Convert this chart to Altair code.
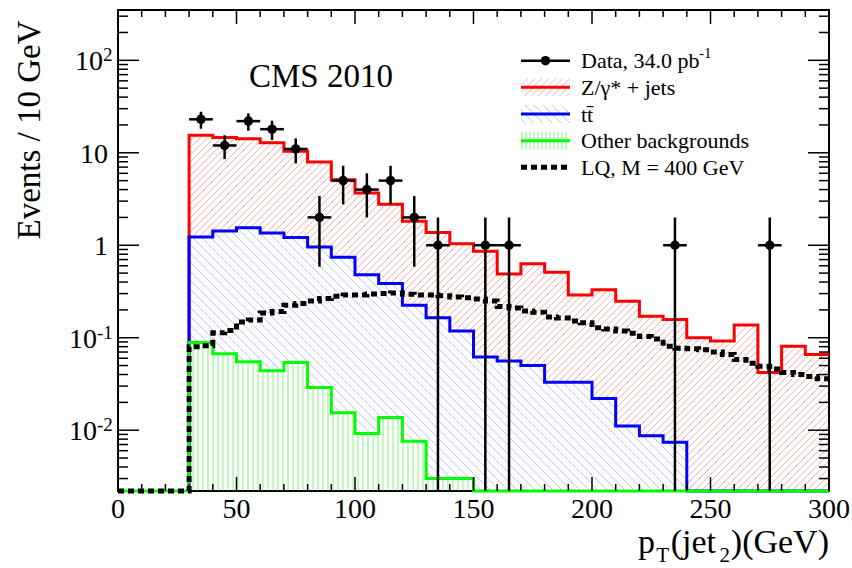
import math
import numpy as np
import pandas as pd
import altair as alt

# ---------------- values ----------------
bin_lo = list(range(30, 300, 10))  # 10 GeV bins 30-300
zjets_stack = [15.5, 14.6, 14.2, 12.8, 10.4, 7.95, 5.1, 3.68, 2.77, 1.82, 1.37, 1.04, 0.86, 0.49,
               0.63, 0.51, 0.29, 0.33, 0.248, 0.171, 0.157, 0.100, 0.092, 0.137, 0.042, 0.081, 0.066]
ttbar_stack = [1.23, 1.43, 1.55, 1.36, 1.21, 0.96, 0.74, 0.48, 0.385, 0.224, 0.164, 0.118, 0.062,
               0.056, 0.050, 0.033, 0.033, 0.022, 0.0111, 0.0087, 0.0074, 0, 0, 0, 0, 0, 0]
other_bkg = [0.089, 0.067, 0.055, 0.044, 0.054, 0.029, 0.0154, 0.0092, 0.0137, 0.0076, 0.0030,
             0.0030, 0, 0, 0, 0, 0, 0, 0, 0, 0, 0, 0, 0, 0, 0, 0]
data_center = list(range(35, 300, 10))
data_count = [23, 12, 22, 18, 11, 2, 5, 4, 5, 2, 1, 0, 1, 1, 0, 0, 0, 0, 0, 0, 1, 0, 0, 0, 1, 0, 0]
lq_lo = list(range(0, 300, 5))  # 5 GeV bins
lq_val = [0, 0, 0, 0, 0, 0,
          0.080, 0.082, 0.113, 0.120, 0.148, 0.155, 0.185, 0.192, 0.225, 0.235, 0.25, 0.265,
          0.28, 0.29, 0.29, 0.297, 0.30, 0.305, 0.295, 0.29, 0.29, 0.285, 0.275, 0.27, 0.262,
          0.25, 0.218, 0.21, 0.195, 0.188, 0.168, 0.163, 0.152, 0.145, 0.128, 0.124, 0.118,
          0.112, 0.103, 0.097, 0.081, 0.077, 0.076, 0.074, 0.070, 0.066, 0.058, 0.053, 0.049,
          0.046, 0.042, 0.040, 0.038, 0.036]
x_tick_labels = ["0", "50", "100", "150", "200", "250", "300"]
x_tick_values = [0, 50, 100, 150, 200, 250, 300]
legend_labels = ["Data, 34.0 pb", "Z/\u03b3* + jets", "tt\u0304", "Other backgrounds", "LQ, M = 400 GeV"]

# ---------------- geometry ----------------
W, H = 711, 481
XMIN, XMAX = 0.0, 300.0
YMIN, YMAX = 0.0022, 350.0
L0, L1 = math.log10(YMIN), math.log10(YMAX)
SERIF = "Liberation Serif"

def fl(v):
    return v if v > YMIN else YMIN

def px(x):
    return (x - XMIN) / (XMAX - XMIN) * W

def py(v):
    return H * (1 - (math.log10(v) - L0) / (L1 - L0))

def inv_x(p):
    return XMIN + p / W * (XMAX - XMIN)

def inv_y(p):
    return 10 ** (L0 + (1 - p / H) * (L1 - L0))

def hatch_segments(regs, kind, spacing, xlim, ylim):
    segs = []
    if kind == "v":
        for (x0, x1, yt, yb) in regs:
            x = math.ceil(x0 / spacing) * spacing
            while x < x1:
                segs.append((x, yt, x, yb))
                x += spacing
        return segs
    if kind == "/":
        cs = np.arange(xlim[0] + ylim[0], xlim[1] + ylim[1] + spacing, spacing)
    else:
        cs = np.arange(ylim[0] - xlim[1], ylim[1] - xlim[0] + spacing, spacing)
    for c in cs:
        ivs = []
        for (x0, x1, yt, yb) in regs:
            if kind == "/":
                a, b = max(x0, c - yb), min(x1, c - yt)
            else:
                a, b = max(x0, yt - c), min(x1, yb - c)
            if b > a + 1e-9:
                ivs.append([a, b])
        merged = []
        for iv in ivs:
            if merged and abs(iv[0] - merged[-1][1]) < 1e-6:
                merged[-1][1] = iv[1]
            else:
                merged.append(iv)
        for a, b in merged:
            if kind == "/":
                segs.append((a, c - a, b, c - b))
            else:
                segs.append((a, a + c, b, b + c))
    return segs

def hatch_df(lo, upper, lower, width, kind, spacing):
    regs = []
    for l, u, d in zip(lo, upper, lower):
        u, d = fl(u), fl(d)
        if u <= d:
            continue
        regs.append((px(l), px(l + width), py(u), py(d)))
    segs = hatch_segments(regs, kind, spacing, (0, W), (0, H))
    return pd.DataFrame({
        "x": [inv_x(s[0]) for s in segs], "y": [inv_y(s[1]) for s in segs],
        "x2": [inv_x(s[2]) for s in segs], "y2": [inv_y(s[3]) for s in segs]})

def step_df(lo, vals, width, start=None):
    pts = []
    if start is not None:
        pts.append((start, YMIN))
    pts.append((lo[0], YMIN))
    for l, v in zip(lo, vals):
        pts.append((l, fl(v)))
    pts.append((lo[-1] + width, fl(vals[-1])))
    return pd.DataFrame({"x": [p[0] for p in pts], "y": [p[1] for p in pts], "o": list(range(len(pts)))})

xs = alt.Scale(domain=[XMIN, XMAX], nice=False, zero=False)
ys = alt.Scale(type="log", domain=[YMIN, YMAX], nice=False)

def X(f):
    return alt.X(f, type="quantitative", scale=xs, axis=None)

def Y(f):
    return alt.Y(f, type="quantitative", scale=ys, axis=None)

def text_layer(t, x, y, size, align="left", angle=None, color="black"):
    kw = dict(font=SERIF, fontSize=size, align=align, baseline="alphabetic", color=color)
    if angle is not None:
        kw["angle"] = angle
    return alt.Chart(pd.DataFrame({"t": [t]})).mark_text(**kw).encode(
        x=alt.value(x), y=alt.value(y), text="t:N")

layers = []

RED_H = ("#ff0000", 0.32)
BLUE_H = ("#0000ff", 0.24)
GREEN_H = ("#00ee00", 0.5)

# ---- hatched fills ----
zero = [0] * len(bin_lo)
for upper, lower, kind, sp, (col, op) in [
        (zjets_stack, ttbar_stack, "/", 7, RED_H),
        (ttbar_stack, other_bkg, "\\", 9, BLUE_H),
        (other_bkg, zero, "v", 5, GREEN_H)]:
    hd = hatch_df(bin_lo, upper, lower, 10, kind, sp)
    layers.append(alt.Chart(hd).mark_rule(color=col, strokeWidth=1, opacity=op).encode(
        x=X("x"), y=Y("y"), x2=alt.X2("x2"), y2=alt.Y2("y2")))

# ---- histogram outlines ----
layers.append(alt.Chart(step_df(bin_lo, zjets_stack, 10)).mark_line(
    interpolate="step-after", color="#ff0000", strokeWidth=3).encode(x=X("x"), y=Y("y"), order="o:Q"))
layers.append(alt.Chart(step_df(bin_lo, ttbar_stack, 10)).mark_line(
    interpolate="step-after", color="#0000ff", strokeWidth=3).encode(x=X("x"), y=Y("y"), order="o:Q"))
layers.append(alt.Chart(step_df(bin_lo, other_bkg, 10, start=0)).mark_line(
    interpolate="step-after", color="#00ff00", strokeWidth=3).encode(x=X("x"), y=Y("y"), order="o:Q"))
layers.append(alt.Chart(step_df(lq_lo, lq_val, 5)).mark_line(
    interpolate="step-after", color="black", strokeWidth=5, strokeDash=[6, 4]).encode(
    x=X("x"), y=Y("y"), order="o:Q"))

# ---- data points ----
dd = pd.DataFrame({"x": data_center, "n": data_count})
dd = dd[dd.n > 0].copy()
dd["xlo"] = dd.x - 5
dd["xhi"] = dd.x + 5
dd["ylo"] = [fl(n - math.sqrt(n)) for n in dd.n]
dd["yhi"] = [n + math.sqrt(n) for n in dd.n]
layers.append(alt.Chart(dd).mark_rule(color="black", strokeWidth=2.5).encode(
    x=X("x"), y=Y("ylo"), y2=alt.Y2("yhi")))
layers.append(alt.Chart(dd).mark_rule(color="black", strokeWidth=2.5).encode(
    x=X("xlo"), x2=alt.X2("xhi"), y=Y("n")))
layers.append(alt.Chart(dd).mark_circle(color="black", size=90, opacity=1).encode(x=X("x"), y=Y("n")))

# ---- ticks (inside the frame, all four sides) ----
xt_major = pd.DataFrame({"x": x_tick_values})
xt_minor = pd.DataFrame({"x": [v for v in range(0, 301, 10) if v % 50 != 0]})
for df, ln in [(xt_major, 14), (xt_minor, 7)]:
    layers.append(alt.Chart(df).mark_rule(color="black", strokeWidth=1.5).encode(
        x=X("x"), y=alt.value(H), y2=alt.value(H - ln)))
    layers.append(alt.Chart(df).mark_rule(color="black", strokeWidth=1.5).encode(
        x=X("x"), y=alt.value(0), y2=alt.value(ln)))
yt_major_vals = [0.01, 0.1, 1, 10, 100]
yt_minor_vals = [m * 10.0 ** d for d in range(-3, 3) for m in range(2, 10) if YMIN <= m * 10.0 ** d <= YMAX]
for vals, ln in [(yt_major_vals, 21), (yt_minor_vals, 10)]:
    df = pd.DataFrame({"v": vals})
    layers.append(alt.Chart(df).mark_rule(color="black", strokeWidth=1.5).encode(
        y=Y("v"), x=alt.value(0), x2=alt.value(ln)))
    layers.append(alt.Chart(df).mark_rule(color="black", strokeWidth=1.5).encode(
        y=Y("v"), x=alt.value(W), x2=alt.value(W - ln)))

# ---- tick labels ----
layers.append(alt.Chart(pd.DataFrame({"x": x_tick_values, "t": x_tick_labels})).mark_text(
    font=SERIF, fontSize=28, align="center", baseline="alphabetic", color="black").encode(
    x=X("x"), y=alt.value(H + 27), text="t:N"))
plain = pd.DataFrame({"v": [10, 1], "t": ["10", "1"]})
layers.append(alt.Chart(plain).mark_text(font=SERIF, fontSize=28, align="right", baseline="alphabetic",
                                         dy=10, color="black").encode(x=alt.value(-10), y=Y("v"), text="t:N"))
for v, sup, xo in [(100, "2", -15), (0.1, "-1", -21), (0.01, "-2", -21)]:
    d1 = pd.DataFrame({"v": [v], "t": ["10"], "s": [sup]})
    layers.append(alt.Chart(d1).mark_text(font=SERIF, fontSize=28, align="right", baseline="alphabetic",
                                          dy=10, color="black").encode(x=alt.value(xo), y=Y("v"), text="t:N"))
    layers.append(alt.Chart(d1).mark_text(font=SERIF, fontSize=19, align="left", baseline="alphabetic",
                                          dy=1, color="black").encode(x=alt.value(xo), y=Y("v"), text="s:N"))

# ---- titles ----
layers.append(text_layer("Events / 10 GeV", -78, 120, 33, align="center", angle=270))
layers.append(text_layer(")(GeV)", 711, 543, 34, align="right"))
layers.append(text_layer("2", 612, 552, 21, align="right"))
layers.append(text_layer("(jet", 598, 543, 34, align="right"))
layers.append(text_layer("T", 551, 552, 21, align="right"))
layers.append(text_layer("p", 537, 543, 34, align="right"))
layers.append(text_layer("CMS 2010", 203, 77, 33, align="center"))

# ---- legend ----
LX0, LX1, LTX = 403, 452, 463
ly = [50.7, 77.3, 104.0, 130.7, 157.3]
for yc, kind, sp, (col, op) in [(ly[1], "/", 7, RED_H), (ly[2], "\\", 9, BLUE_H), (ly[3], "v", 4, GREEN_H)]:
    regs = [(LX0, LX1, yc - 9, yc + 9)]
    segs = hatch_segments(regs, kind, sp, (LX0, LX1), (yc - 9, yc + 9))
    sd = pd.DataFrame({"a": [s[0] for s in segs], "b": [s[1] for s in segs],
                       "c": [s[2] for s in segs], "d": [s[3] for s in segs]})
    layers.append(alt.Chart(sd).mark_rule(color=col, strokeWidth=1, opacity=op).encode(
        x=alt.X("a:Q", scale=None), y=alt.Y("b:Q", scale=None),
        x2=alt.X2("c:Q"), y2=alt.Y2("d:Q")))
one = pd.DataFrame({"k": [0]})
for yc, col, sw, dash in [(ly[0], "black", 2.5, None), (ly[1], "#ff0000", 3, None), (ly[2], "#0000ff", 3, None),
                          (ly[3], "#00ff00", 3, None), (ly[4], "black", 5, [6, 4])]:
    kw = dict(color=col, strokeWidth=sw)
    if dash:
        kw["strokeDash"] = dash
    layers.append(alt.Chart(one).mark_rule(**kw).encode(
        x=alt.value(LX0), x2=alt.value(LX1), y=alt.value(yc)))
layers.append(alt.Chart(one).mark_circle(color="black", size=90, opacity=1).encode(
    x=alt.value((LX0 + LX1) / 2), y=alt.value(ly[0])))
for yc, lab in zip(ly, legend_labels):
    layers.append(text_layer(lab, LTX, yc + 7.5, 22))
layers.append(text_layer("-1", 581, ly[0] - 3, 15))

chart = alt.layer(*layers).properties(
    width=W, height=H,
    padding={"left": 118, "top": 10, "right": 23, "bottom": 77},
    autosize=alt.AutoSizeParams(type="none"),
    background="white",
).configure_view(stroke="black", strokeWidth=2)

chart.save("out.html", embed_options={"renderer": "svg", "actions": False})
